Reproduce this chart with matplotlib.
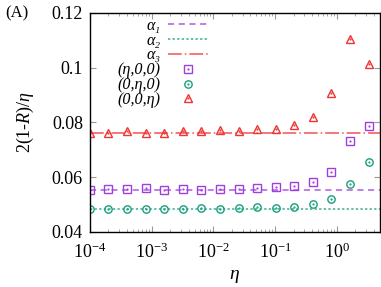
import numpy as np
import matplotlib
matplotlib.use('Agg')
import matplotlib.pyplot as plt
from matplotlib.ticker import FixedLocator, FixedFormatter, LogLocator, NullFormatter
from matplotlib.legend_handler import HandlerTuple

plt.rcParams['font.family'] = ['Liberation Serif', 'DejaVu Serif']
plt.rcParams['mathtext.fontset'] = 'custom'
plt.rcParams['mathtext.rm'] = 'Liberation Serif'
plt.rcParams['mathtext.it'] = 'Liberation Serif:italic'

# eta values: 1e-4 * 2^k
eta = [1e-4, 2e-4, 4e-4, 8e-4, 1.6e-3, 3.2e-3, 6.4e-3, 1.28e-2,
       2.56e-2, 5.12e-2, 0.1024, 0.2048, 0.4096, 0.8192, 1.6384, 3.2768]
sq = [0.0553, 0.0557, 0.0556, 0.0560, 0.0552, 0.0556, 0.0553, 0.0556,
      0.0557, 0.0560, 0.0564, 0.0569, 0.0582, 0.0620, 0.0731, 0.0788]
ci = [0.0484, 0.0484, 0.0484, 0.0485, 0.0484, 0.0484, 0.0489, 0.0484,
      0.0487, 0.0490, 0.0489, 0.0492, 0.0502, 0.0521, 0.0576, 0.0657]
tr = [0.0763, 0.0763, 0.0770, 0.0761, 0.0763, 0.0768, 0.0769, 0.0773,
      0.0769, 0.0775, 0.0775, 0.0792, 0.0819, 0.0907, 0.1104, 0.1013]
alpha1 = 0.0553
alpha2 = 0.0484
alpha3 = 0.0763
ytick_vals = [0.04, 0.06, 0.08, 0.1, 0.12]
ytick_labels = ['0.04', '0.06', '0.08', '0.1', '0.12']

c_pur = '#a040dc'
c_grn = '#18a07c'
c_red = '#f03434'

fig = plt.figure(figsize=(3.81, 2.87), dpi=100)
ax = fig.add_axes([0.236, 0.192, 0.761, 0.763])

l1 = ax.axhline(alpha1, color=c_pur, lw=1.1, dashes=(4, 3), alpha=0.85)
l2 = ax.axhline(alpha2, color=c_grn, lw=1.1, dashes=(1.5, 1.5), alpha=0.85)
l3 = ax.axhline(alpha3, color=c_red, lw=1.1, dashes=(9, 2, 1, 2), alpha=0.85)

ms = 5.3
p1, = ax.plot(eta, sq, ls='none', marker='s', ms=ms, mfc='none', mec=c_pur, mew=1.0)
p2, = ax.plot(eta, ci, ls='none', marker='o', ms=ms, mfc='none', mec=c_grn, mew=1.0)
p3, = ax.plot(eta, tr, ls='none', marker='^', ms=ms + 0.7, mfc='none', mec=c_red, mew=1.0)
d1, = ax.plot(eta, sq, ls='none', marker='.', ms=1.2, color=c_pur)
d2, = ax.plot(eta, ci, ls='none', marker='.', ms=1.2, color=c_grn)
d3, = ax.plot(eta, tr, ls='none', marker='.', ms=1.2, color=c_red)

ax.set_xscale('log')
ax.set_xlim(1e-4, 5)
ax.set_ylim(0.04, 0.12)
ax.yaxis.set_major_locator(FixedLocator(ytick_vals))
ax.yaxis.set_major_formatter(FixedFormatter(ytick_labels))
ax.xaxis.set_major_locator(LogLocator(base=10, numticks=10))
ax.xaxis.set_minor_locator(LogLocator(base=10, subs=np.arange(2, 10), numticks=10))
ax.xaxis.set_minor_formatter(NullFormatter())
ax.tick_params(which='both', direction='in', top=True, right=True, labelsize=13, colors='black')
ax.tick_params(axis='both', which='major', length=4, width=0.8, color='#999999', pad=5)
ax.tick_params(axis='x', which='major', pad=8)
ax.tick_params(axis='x', which='minor', length=2, width=0.6, color='#999999')
for s in ax.spines.values():
    s.set_linewidth(1.0)

ax.set_xlabel(r'$\eta$', fontsize=14, labelpad=4)
ax.set_ylabel(r'2(1-$R$)/$\eta$', fontsize=13, labelpad=11)
fig.text(0.013, 0.955, '(A)', fontsize=12, va='center', ha='left')

handles = [l1, l2, l3, (p1, d1), (p2, d2), (p3, d3)]
labels = ['α₁', 'α₂', 'α₃', '(η,0,0)', '(0,η,0)', '(0,0,η)']
leg = ax.legend(handles, labels, loc='upper right', bbox_to_anchor=(0.435, 1.015),
                frameon=False, markerfirst=False, borderpad=0.0,
                prop={'size': 11.6, 'style': 'italic'},
                handlelength=2.5, handletextpad=0.45, labelspacing=-0.07,
                handler_map={tuple: HandlerTuple(ndivide=1)})

fig.savefig('out.png', dpi=100)
